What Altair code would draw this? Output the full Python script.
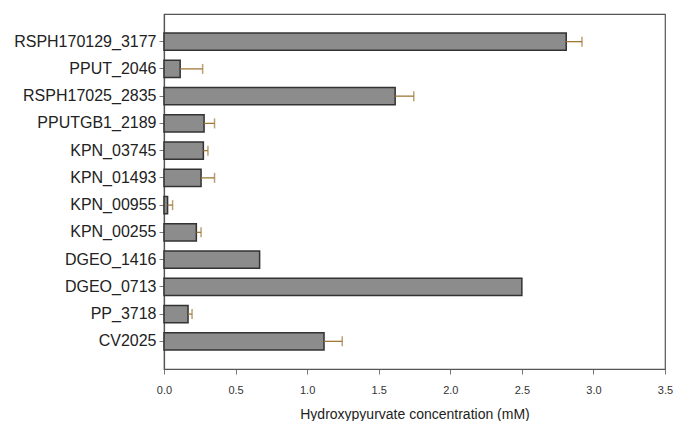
import altair as alt
import pandas as pd

genes = ["RSPH170129_3177", "PPUT_2046", "RSPH17025_2835", "PPUTGB1_2189",
         "KPN_03745", "KPN_01493", "KPN_00955", "KPN_00255",
         "DGEO_1416", "DGEO_0713", "PP_3718", "CV2025"]
means = [2.81, 0.113, 1.615, 0.28, 0.275, 0.259, 0.025, 0.226, 0.668, 2.50, 0.168, 1.118]
errors = [0.11, 0.157, 0.13, 0.073, 0.032, 0.094, 0.035, 0.033, 0.0, 0.0, 0.028, 0.127]

df = pd.DataFrame({"gene": genes, "mean": means, "err": errors})
df["upper"] = df["mean"] + df["err"]
err_df = df[df["err"] > 0]

y_enc = alt.Y("gene:N", sort=genes,
              scale=alt.Scale(paddingInner=0.37, paddingOuter=0.7),
              axis=alt.Axis(title=None, labelFontSize=16, labelFont="Liberation Sans",
                            labelColor="#222222", tickSize=5, labelPadding=3,
                            tickColor="#777777", domainColor="#555555", domainWidth=1.2))
x_scale = alt.Scale(domain=[0, 3.5], nice=False)
x_axis = alt.Axis(title="Hydroxypyurvate concentration (mM)", values=[0, 0.5, 1, 1.5, 2, 2.5, 3, 3.5],
                  format=".1f", labelFontSize=11, labelFont="Liberation Sans", labelColor="#333333",
                  labelFlush=False, tickSize=5, labelPadding=10, tickColor="#777777",
                  domainColor="#555555", domainWidth=1.2, grid=False,
                  titleFont="Liberation Sans", titleFontSize=14,
                  titleFontWeight="normal", titleColor="#222222", titlePadding=12)

bars = alt.Chart(df).mark_bar(color="#8c8c8c", stroke="#333333", strokeWidth=1.5).encode(
    y=y_enc,
    x=alt.X("mean:Q", scale=x_scale, axis=x_axis),
)

rules = alt.Chart(err_df).mark_rule(color="#a07838", strokeWidth=1.3).encode(
    y=alt.Y("gene:N", sort=genes),
    x=alt.X("mean:Q"),
    x2="upper:Q",
)

caps = alt.Chart(err_df).mark_tick(color="#a07838", orient="vertical", size=10, thickness=1.5).encode(
    y=alt.Y("gene:N", sort=genes),
    x=alt.X("upper:Q"),
)

chart = alt.layer(bars, rules, caps).properties(
    width=501, height=355,
    autosize=alt.AutoSizeParams(type="none"),
    padding={"left": 156, "top": 6, "right": 8, "bottom": 52},
).configure(background="white").configure_view(stroke="#555555", strokeWidth=1.2)

chart.save("out.html", embed_options={"renderer": "svg", "actions": False})
